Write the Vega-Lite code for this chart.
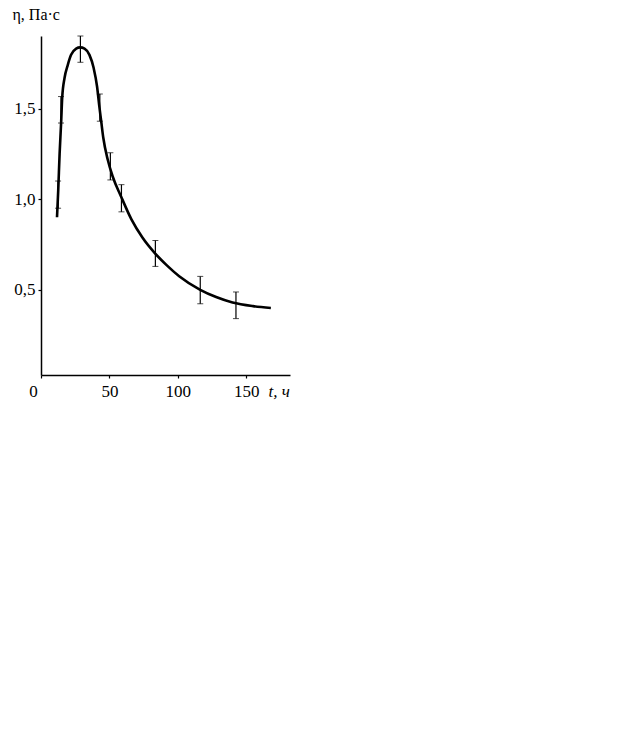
{
  "$schema": "https://vega.github.io/schema/vega-lite/v6.json",
  "autosize": {"type": "none"},
  "width": 249,
  "height": 339,
  "padding": {"left": 41, "top": 36, "right": 334, "bottom": 362},
  "background": "white",
  "config": {
    "view": {"stroke": null},
    "axis": {
      "domainColor": "black", "domainWidth": 1.5, "tickColor": "black", "tickWidth": 1.2,
      "tickSize": 3, "grid": false, "labelFont": "Liberation Serif", "labelFontSize": 17,
      "labelColor": "black", "titleFont": "Liberation Serif", "titleFontSize": 16,
      "titleColor": "black", "titleFontWeight": "normal"
    }
  },
  "datasets": {
    "curve": [
      {"t": 11.7, "v": 0.9}, {"t": 12.6, "v": 1.05}, {"t": 13.6, "v": 1.25}, {"t": 14.7, "v": 1.42},
      {"t": 15.5, "v": 1.56}, {"t": 17.2, "v": 1.668}, {"t": 19.6, "v": 1.741}, {"t": 22, "v": 1.796},
      {"t": 25.7, "v": 1.83}, {"t": 28.6, "v": 1.837}, {"t": 31.8, "v": 1.83}, {"t": 35.4, "v": 1.796},
      {"t": 38.5, "v": 1.723}, {"t": 41, "v": 1.62}, {"t": 42.5, "v": 1.52}, {"t": 44, "v": 1.43},
      {"t": 45.5, "v": 1.34}, {"t": 48.8, "v": 1.217}, {"t": 52.4, "v": 1.125}, {"t": 58.5, "v": 1.015},
      {"t": 66, "v": 0.89}, {"t": 74, "v": 0.79}, {"t": 83.5, "v": 0.7}, {"t": 92, "v": 0.635},
      {"t": 101, "v": 0.575}, {"t": 116.4, "v": 0.5}, {"t": 128, "v": 0.46}, {"t": 140, "v": 0.43},
      {"t": 155, "v": 0.41}, {"t": 168, "v": 0.4}
    ],
    "bars": [
      {"t": 12.5, "lo": 0.95, "hi": 1.1},
      {"t": 14.6, "lo": 1.42, "hi": 1.566},
      {"t": 28.8, "lo": 1.755, "hi": 1.9},
      {"t": 43, "lo": 1.43, "hi": 1.58},
      {"t": 50.7, "lo": 1.106, "hi": 1.256},
      {"t": 58.8, "lo": 0.93, "hi": 1.08},
      {"t": 83.6, "lo": 0.629, "hi": 0.772},
      {"t": 116.4, "lo": 0.423, "hi": 0.574},
      {"t": 142.5, "lo": 0.341, "hi": 0.488}
    ]
  },
  "layer": [
    {
      "data": {"name": "curve"},
      "mark": {"type": "line", "color": "black", "strokeWidth": 2.6, "interpolate": "monotone"},
      "encoding": {
        "x": {
          "field": "t", "type": "quantitative",
          "scale": {"domain": [0, 182], "nice": false, "zero": false},
          "axis": {
            "values": [0, 50, 100, 150], "labelPadding": 5, "labelFlush": false,
            "labelOffset": {"condition": {"test": "datum.value == 0", "value": -8}, "value": 0},
            "title": "t, ч", "titleAnchor": "start", "titleAlign": "left", "titleBaseline": "alphabetic",
            "titleX": 227, "titleY": 21, "titleFontStyle": "italic", "titleFontSize": 17
          }
        },
        "y": {
          "field": "v", "type": "quantitative",
          "scale": {"domain": [0.03, 1.9], "nice": false, "zero": false},
          "axis": {
            "values": [0.5, 1, 1.5], "labelPadding": 3, "labelFlush": false,
            "labelExpr": "replace(format(datum.value, '.1f'), '.', ',')",
            "title": "η, Па·с", "titleAngle": 0, "titleAlign": "left", "titleBaseline": "alphabetic",
            "titleX": -29, "titleY": -17
          }
        }
      }
    },
    {
      "data": {"name": "bars"},
      "mark": {"type": "errorbar", "color": "black", "ticks": {"size": 6, "color": "black", "strokeWidth": 1.2}, "rule": {"strokeWidth": 1.2}},
      "encoding": {
        "x": {"field": "t", "type": "quantitative", "title": "t, ч"},
        "y": {"field": "lo", "type": "quantitative", "title": "η, Па·с"},
        "y2": {"field": "hi"}
      }
    }
  ]
}
